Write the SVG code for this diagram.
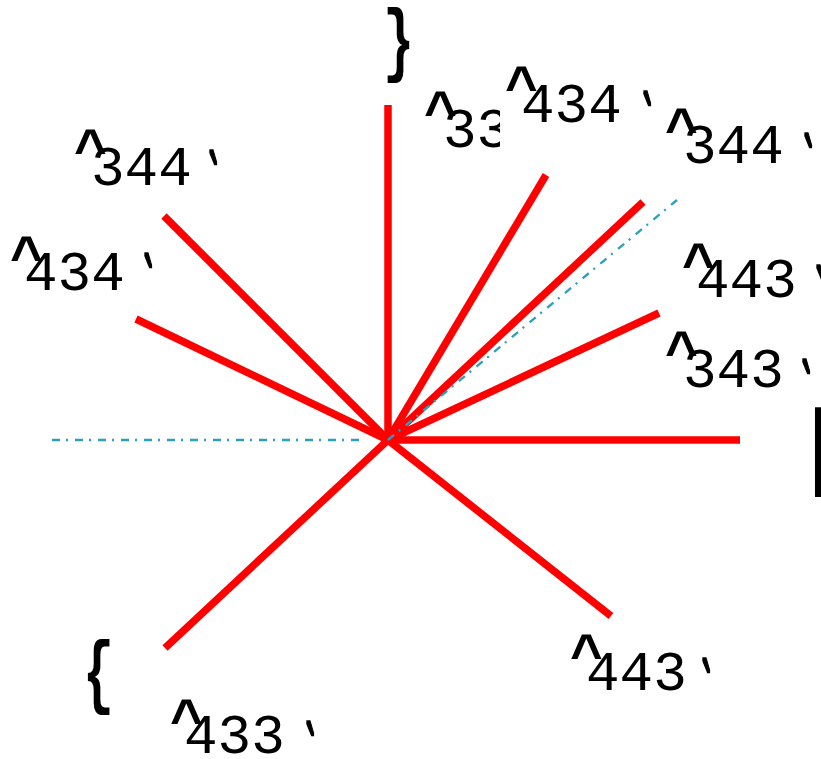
<svg xmlns="http://www.w3.org/2000/svg" width="821" height="759" viewBox="0 0 821 759">
<style>
.ray{stroke:#ff0000;stroke-width:7.5;fill:none;stroke-linecap:butt}
.axis{stroke:#2aa0be;stroke-width:2.3;fill:none;stroke-dasharray:8 6 2 7}
.lbl{font-family:"Liberation Mono","Courier New",monospace;font-size:56px;fill:#000}
.hat{font-weight:bold}
.tk{font-family:"Liberation Mono","Courier New",monospace;font-size:56px;font-weight:bold;fill:#000;stroke:#000;stroke-width:2;vector-effect:non-scaling-stroke}
.br{font-family:"Liberation Mono","Courier New",monospace;font-size:72px;font-weight:bold;fill:#000}
</style>
<rect width="821" height="759" fill="#fff"/>
<g id="connectors">
<line class="ray" x1="388" y1="440" x2="388" y2="105"/>
<line class="ray" x1="388" y1="440" x2="546" y2="175"/>
<line class="ray" x1="388" y1="440" x2="643" y2="202"/>
<line class="ray" x1="388" y1="440" x2="659" y2="313"/>
<line class="ray" x1="388" y1="440" x2="740" y2="440"/>
<line class="ray" x1="388" y1="440" x2="611" y2="616"/>
<line class="ray" x1="388" y1="440" x2="165" y2="648"/>
<line class="ray" x1="388" y1="440" x2="164" y2="216"/>
<line class="ray" x1="388" y1="440" x2="136" y2="319"/>
<line class="axis" x1="52" y1="440" x2="362" y2="440"/>
<line class="axis" x1="388" y1="440" x2="677" y2="200"/>
</g>
<g id="label-33">
<text class="lbl"><tspan class="hat" x="424" y="129.5">^</tspan><tspan x="443" y="147">33</tspan></text>
</g>
<g id="label-434-top">
<rect x="500" y="60" width="155" height="90" fill="#fff"/>
<text class="lbl"><tspan class="hat" x="505" y="104.5">^</tspan><tspan x="521" y="122">434</tspan></text>
<text class="tk" transform="translate(639,163) scale(0.5,1.8)">`</text>
</g>
<g id="label-344-right">
<text class="lbl"><tspan class="hat" x="665" y="146.5">^</tspan><tspan x="683" y="163">344</tspan></text>
<text class="tk" transform="translate(800,205) scale(0.5,1.8)">`</text>
</g>
<g id="label-443-right">
<text class="lbl"><tspan class="hat" x="682" y="281.5">^</tspan><tspan x="696" y="297">443</tspan></text>
<text class="tk" transform="translate(812,337) scale(0.5,1.8)">`</text>
</g>
<g id="label-343">
<text class="lbl"><tspan class="hat" x="665" y="369.5">^</tspan><tspan x="683" y="387">343</tspan></text>
<text class="tk" transform="translate(798,431) scale(0.5,1.8)">`</text>
</g>
<g id="label-344-left">
<text class="lbl"><tspan class="hat" x="74" y="167.5">^</tspan><tspan x="91" y="185">344</tspan></text>
<text class="tk" transform="translate(205,222) scale(0.5,1.8)">`</text>
</g>
<g id="label-434-left">
<text class="lbl"><tspan class="hat" x="10" y="274.5">^</tspan><tspan x="24" y="290">434</tspan></text>
<text class="tk" transform="translate(140,325) scale(0.5,1.8)">`</text>
</g>
<g id="label-433">
<text class="lbl"><tspan class="hat" x="170" y="737.5">^</tspan><tspan x="184" y="753">433</tspan></text>
<text class="tk" transform="translate(302,793) scale(0.5,1.8)">`</text>
</g>
<g id="label-443-bottom">
<text class="lbl"><tspan class="hat" x="570" y="672.5">^</tspan><tspan x="586" y="690">443</tspan></text>
<text class="tk" transform="translate(698,730) scale(0.5,1.8)">`</text>
</g>
<g id="brace-top"><text class="br" transform="translate(383,66) scale(0.72,1.12)">}</text></g>
<g id="brace-left"><text class="br" transform="translate(83,698) scale(0.72,1.12)">{</text></g>
<g id="bar-right"><text class="br" transform="translate(798,476) scale(1,1.3)">|</text></g>
</svg>
